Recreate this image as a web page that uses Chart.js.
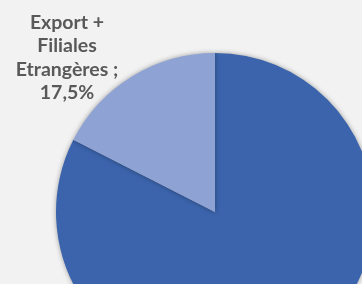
<!DOCTYPE html>
<html>
<head>
<meta charset="utf-8">
<script src="https://cdn.jsdelivr.net/npm/chart.js@4/dist/chart.umd.min.js"></script>
<style>
  html, body { margin: 0; padding: 0; background: #F2F2F2; overflow: hidden; width: 362px; height: 284px; }
  #wrap { position: absolute; left: 0; top: 0; width: 430px; height: 424px; }
</style>
</head>
<body>
<div id="wrap"><canvas id="c" width="430" height="424"></canvas></div>
<script>
const categories = ["France", "Export + Filiales Etrangères"];
const values = [82.5, 17.5];
const sliceColors = ["#3B64AC", "#8EA3D4"];
const labelLines = ["Export +", "Filiales", "Etrangères ;"];

const shadowPlugin = {
  id: 'shadow',
  beforeDatasetDraw(chart) {
    const ctx = chart.ctx;
    ctx.save();
    ctx.shadowColor = 'rgba(0,0,0,0.35)';
    ctx.shadowBlur = 5;
    ctx.shadowOffsetX = 0;
    ctx.shadowOffsetY = 0;
  },
  afterDatasetDraw(chart) {
    chart.ctx.restore();
  }
};

const labelPlugin = {
  id: 'sliceLabel',
  afterDraw(chart) {
    const ctx = chart.ctx;
    const idx = 1;
    const pct = values[idx].toFixed(1).replace('.', ',') + '%';
    const lines = labelLines.concat([pct]);
    ctx.save();
    ctx.fillStyle = '#595959';
    ctx.font = 'bold 19.5px Lato';
    ctx.textAlign = 'center';
    ctx.textBaseline = 'alphabetic';
    lines.forEach((l, i) => ctx.fillText(l, 67, 29 + i * 23.3));
    ctx.restore();
  }
};

new Chart(document.getElementById('c'), {
  type: 'pie',
  data: {
    labels: categories,
    datasets: [{
      data: values,
      backgroundColor: sliceColors,
      borderWidth: 0
    }]
  },
  options: {
    responsive: false,
    animation: false,
    layout: { padding: { left: 56, right: 56, top: 53, bottom: 53 } },
    plugins: {
      legend: { display: false },
      tooltip: { enabled: false }
    }
  },
  plugins: [shadowPlugin, labelPlugin]
});
</script>
</body>
</html>
